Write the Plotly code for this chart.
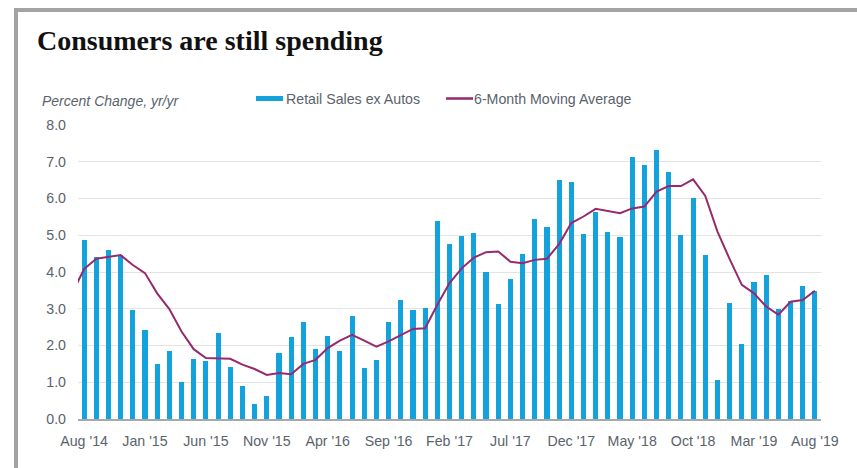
import plotly.graph_objects as go

# ---- data ----
months = ["Aug '14","Sep '14","Oct '14","Nov '14","Dec '14",
          "Jan '15","Feb '15","Mar '15","Apr '15","May '15","Jun '15","Jul '15","Aug '15","Sep '15","Oct '15","Nov '15","Dec '15",
          "Jan '16","Feb '16","Mar '16","Apr '16","May '16","Jun '16","Jul '16","Aug '16","Sep '16","Oct '16","Nov '16","Dec '16",
          "Jan '17","Feb '17","Mar '17","Apr '17","May '17","Jun '17","Jul '17","Aug '17","Sep '17","Oct '17","Nov '17","Dec '17",
          "Jan '18","Feb '18","Mar '18","Apr '18","May '18","Jun '18","Jul '18","Aug '18","Sep '18","Oct '18","Nov '18","Dec '18",
          "Jan '19","Feb '19","Mar '19","Apr '19","May '19","Jun '19","Jul '19","Aug '19"]

retail_sales_ex_autos = [4.86, 4.41, 4.61, 4.47, 2.97,
                         2.41, 1.49, 1.85, 1.01, 1.62, 1.57, 2.35, 1.42, 0.91, 0.41, 0.63, 1.80,
                         2.22, 2.63, 1.91, 2.27, 1.86, 2.79, 1.40, 1.61, 2.65, 3.23, 2.96, 3.02,
                         5.39, 4.77, 4.98, 5.05, 4.00, 3.14, 3.80, 4.50, 5.45, 5.22, 6.49, 6.45,
                         5.03, 5.63, 5.08, 4.94, 7.14, 6.91, 7.33, 6.72, 5.01, 6.02, 4.47, 1.07,
                         3.17, 2.04, 3.72, 3.92, 3.00, 3.22, 3.61, 3.47]

# moving average starts one month earlier (Jul '14), partly clipped at the left edge
ma_months = ["Jul '14"] + months
moving_avg_6m = [3.41, 4.08, 4.36, 4.42, 4.46, 4.19,
                 3.97, 3.42, 2.99, 2.38, 1.90, 1.66, 1.66, 1.64, 1.48, 1.36, 1.20, 1.25,
                 1.22, 1.50, 1.61, 1.93, 2.13, 2.29, 2.13, 1.97, 2.11, 2.29, 2.45, 2.47,
                 3.11, 3.70, 4.10, 4.39, 4.54, 4.56, 4.28, 4.24, 4.33, 4.36, 4.76, 5.33,
                 5.51, 5.72, 5.66, 5.60, 5.73, 5.78, 6.19, 6.34, 6.34, 6.52, 6.07, 5.10,
                 4.35, 3.65, 3.42, 3.06, 2.84, 3.19, 3.24, 3.49]

y_ticks = [0, 1, 2, 3, 4, 5, 6, 7, 8]
y_tick_labels = ["0.0", "1.0", "2.0", "3.0", "4.0", "5.0", "6.0", "7.0", "8.0"]

title_text = "Consumers are still spending"
axis_title = "Percent Change, yr/yr"
legend_names = ["Retail Sales ex Autos", "6-Month Moving Average"]

BAR_COLOR = "#13a2dc"
LINE_COLOR = "#962a6f"
TICK_COLOR = "#5a636c"

x_bar = list(range(len(months)))
x_ma = list(range(-1, len(months)))
x_tickvals = x_bar[::5]
x_ticktext = months[::5]

fig = go.Figure()
fig.add_trace(go.Bar(x=x_bar, y=retail_sales_ex_autos, name=legend_names[0],
                     marker=dict(color=BAR_COLOR, line=dict(width=0)), width=0.42))
fig.add_trace(go.Scatter(x=x_ma, y=moving_avg_6m, name=legend_names[1], mode="lines",
                         line=dict(color=LINE_COLOR, width=2)))

W, H = 857, 468
L, R, T, B = 78, 36, 125, 49
pw, ph = W - L - R, H - T - B

def px_x(p):
    return (p - L) / pw

def px_y(p):
    return (H - B - p) / ph

font_sans = "Liberation Sans, Arial, sans-serif"
FS = 14.2

fig.update_layout(
    width=W, height=H,
    margin=dict(l=L, r=R, t=T, b=B, pad=0),
    paper_bgcolor="white", plot_bgcolor="white",
    showlegend=False,
    bargap=0,
    title=dict(text=title_text, xref="container", yref="container",
               x=37 / W, xanchor="left", y=1 - 40 / H, yanchor="middle",
               font=dict(family="Liberation Serif, Times New Roman, serif", size=28, color="#111111",
                         weight="bold")),
    xaxis=dict(range=[-0.5, 60.5], tickvals=x_tickvals, ticktext=x_ticktext,
               showgrid=False, zeroline=False, showline=True, linecolor="#a8a8a8", linewidth=1.5,
               ticks="", ticklabelstandoff=8,
               tickfont=dict(family=font_sans, size=FS, color=TICK_COLOR)),
    yaxis=dict(range=[0, 8], tickvals=y_ticks, ticktext=y_tick_labels,
               showgrid=True, gridcolor="#e3e3e3", gridwidth=1, zeroline=False,
               ticks="", ticklabelstandoff=11,
               tickfont=dict(family=font_sans, size=FS, color=TICK_COLOR)),
)

# frame (gray border on top and left)
fig.add_shape(type="rect", xref="paper", yref="paper",
              x0=px_x(14), x1=px_x(18), y0=px_y(H + 5), y1=px_y(8),
              fillcolor="#a3a3a3", line=dict(width=0), layer="above")
fig.add_shape(type="rect", xref="paper", yref="paper",
              x0=px_x(14), x1=px_x(W + 5), y0=px_y(12), y1=px_y(8),
              fillcolor="#a3a3a3", line=dict(width=0), layer="above")

# axis title
fig.add_annotation(text=f"<i>{axis_title}</i>", xref="paper", yref="paper",
                   x=px_x(40), y=px_y(101), xanchor="left", yanchor="middle", showarrow=False,
                   font=dict(family=font_sans, size=14, color=TICK_COLOR))

# manual legend
leg_y = px_y(98.5)
fig.add_shape(type="rect", xref="paper", yref="paper",
              x0=px_x(256), x1=px_x(283), y0=px_y(101), y1=px_y(96),
              fillcolor=BAR_COLOR, line=dict(width=0))
fig.add_annotation(text=legend_names[0], xref="paper", yref="paper",
                   x=px_x(284), y=leg_y, xanchor="left", yanchor="middle", showarrow=False,
                   font=dict(family=font_sans, size=FS, color=TICK_COLOR))
fig.add_shape(type="line", xref="paper", yref="paper",
              x0=px_x(446), x1=px_x(473), y0=leg_y, y1=leg_y,
              line=dict(color=LINE_COLOR, width=2.5))
fig.add_annotation(text=legend_names[1], xref="paper", yref="paper",
                   x=px_x(472), y=leg_y, xanchor="left", yanchor="middle", showarrow=False,
                   font=dict(family=font_sans, size=FS, color=TICK_COLOR))

fig.write_html("out.html", config={"displayModeBar": False},
               post_script="document.body.style.margin='0';document.body.style.overflow='hidden';")
